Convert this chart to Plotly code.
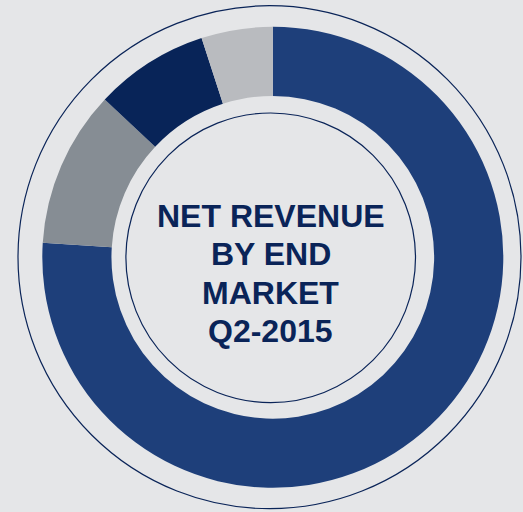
import plotly.graph_objects as go

# Data (shares, %)
segments = ["Segment A", "Segment B", "Segment C", "Segment D"]
shares = [76, 11, 8, 5]
colors = ["#1e3f7a", "#868d94", "#082458", "#b9bbbf"]
title_lines = ["NET REVENUE", "BY END", "MARKET", "Q2-2015"]

W, H = 523, 512
BG = "#e5e6e8"
NAVY = "#0a2458"

# donut geometry in pixels
cx, cy, R = 272.8, 257.3, 230.5

fig = go.Figure(go.Pie(
    labels=segments,
    values=shares,
    marker=dict(colors=colors, line=dict(width=0)),
    hole=0.70,
    sort=False,
    direction="clockwise",
    rotation=0,
    textinfo="none",
    hoverinfo="label+percent",
    showlegend=False,
    domain=dict(x=[(cx - R) / W, (cx + R) / W],
                y=[(H - cy - R) / H, (H - cy + R) / H]),
))

def circle(x0, y0, r):
    return dict(type="circle", xref="paper", yref="paper",
                x0=(x0 - r) / W, x1=(x0 + r) / W,
                y0=(H - y0 - r) / H, y1=(H - y0 + r) / H,
                line=dict(color=NAVY, width=1.2), fillcolor="rgba(0,0,0,0)",
                layer="above")

line_y = [216, 254.3, 292.6, 330.9]  # pixel centres of the four title lines
annotations = [dict(
    text="<b>" + t + "</b>",
    x=270.5 / W, y=(H - yy) / H, xref="paper", yref="paper",
    xanchor="center", yanchor="middle", showarrow=False,
    font=dict(family="Liberation Sans, Arial, sans-serif", size=32, color=NAVY),
) for t, yy in zip(title_lines, line_y)]

fig.update_layout(
    width=W, height=H,
    margin=dict(l=0, r=0, t=0, b=0),
    paper_bgcolor=BG, plot_bgcolor=BG,
    shapes=[circle(269.5, 257.2, 251.5), circle(270.7, 257.8, 144.8)],
    annotations=annotations,
)

fig.write_html("out.html", config={"displayModeBar": False},
               post_script="document.body.style.margin='0';document.body.style.background='%s';" % BG)
